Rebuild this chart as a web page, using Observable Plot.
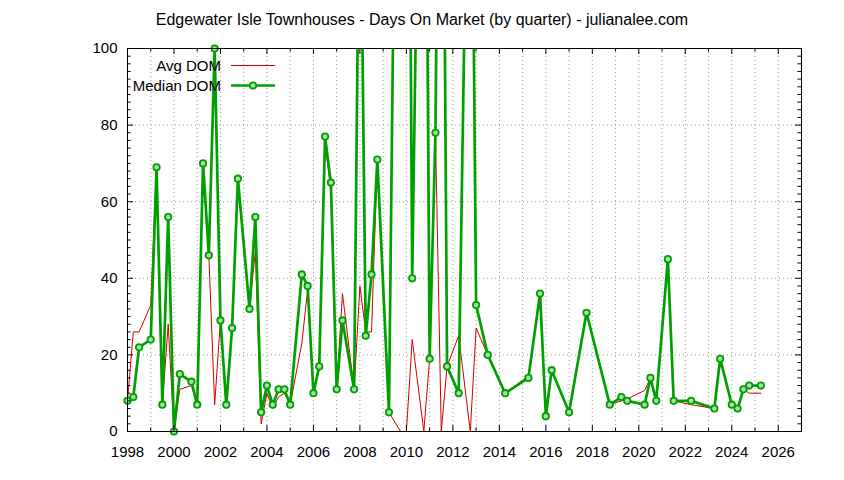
<!DOCTYPE html>
<html><head><meta charset="utf-8">
<script src="https://cdn.jsdelivr.net/npm/d3@7"></script>
<script src="https://cdn.jsdelivr.net/npm/@observablehq/plot@0.6"></script>
<style>body{margin:0;background:#fff;}</style>
</head><body><div id="chart"></div>
<script>
const quarters = [1998.0,1998.25,1998.5,1999.0,1999.25,1999.5,1999.75,2000.0,2000.25,2000.75,
  2001.0,2001.25,2001.5,2001.75,2002.0,2002.25,2002.5,2002.75,2003.25,2003.5,
  2003.75,2004.0,2004.25,2004.5,2004.75,2005.0,2005.5,2005.75,2006.0,2006.25,
  2006.5,2006.75,2007.0,2007.25,2007.75,2008.0,2008.25,2008.5,2008.75,2009.25,
  2009.75,2010.0,2010.25,2010.75,2011.0,2011.25,2011.5,2011.75,2012.25,2012.75,
  2013.0,2013.5,2014.25,2015.25,2015.75,2016.0,2016.25,2017.0,2017.75,2018.75,
  2019.25,2019.5,2020.25,2020.5,2020.75,2021.25,2021.5,2022.25,2023.25,2023.5,
  2024.0,2024.25,2024.5,2024.75,2025.25];
const avgDom = [8,26,26,33,69,7,28,0,11,12,
  7,70,46,7,29,6,27,66,32,47,
  2,10,6,9,10,7,23,37,10,17,
  75,63,11,36,11,38,26,26,71,5,
  0,0,24,0,19,78,0,17,25,0,
  27,20,10,14.5,36,4,16,5,31,7,
  8,8.5,10.7,14,7,45,8,7,6,19,
  7,5,11,10,10];
const medianDom = [8,9,22,24,69,7,56,0,15,13,
  7,70,46,100,29,7,27,66,32,56,
  5,12,7,11,11,7,41,38,10,17,
  77,65,11,29,11,160,25,41,71,5,
  285,280,40,250,19,78,240,17,10,205,
  33,20,10,14,36,4,16,5,31,7,
  9,8,7,14,8,45,8,8,6,19,
  7,6,11,12,12];
const xTickLabels = [1998,2000,2002,2004,2006,2008,2010,2012,2014,2016,2018,2020,2022,2024,2026];
const yTickLabels = [0,20,40,60,80,100];
const titleText = "Edgewater Isle Townhouses - Days On Market (by quarter) - julianalee.com";
const seriesNames = ["Avg DOM", "Median DOM"];

const data = quarters.map((q, i) => ({q, avg: avgDom[i], med: medianDom[i]}));
const W = 844, H = 480, mL = 127, mR = 43, mT = 48, mB = 49;
const plotW = W - mL - mR, plotH = H - mT - mB;
const years = d3.range(1998, 2028);
const majorYears = years.filter(y => y % 2 === 0);
const minorYears = years.filter(y => y % 2 === 1);
const yMajor = [20, 40, 60, 80];
const yMinor = d3.range(2, 100, 2).filter(v => v % 20 !== 0);
const RED = "#d40000", GREEN = "#00a000";
const gridStyle = {stroke: "#999", strokeOpacity: 1, strokeDasharray: "1,3"};

const chart = Plot.plot({
  width: W, height: H,
  marginLeft: mL, marginRight: mR, marginTop: mT, marginBottom: mB,
  style: {fontFamily: "'Liberation Sans', Arial, sans-serif", fontSize: "15px", background: "white", color: "black"},
  x: {domain: [1998, 2027]},
  y: {domain: [0, 100]},
  marks: [
    Plot.gridX(years.filter(y => y > 1998 && y < 2027), gridStyle),
    Plot.gridY(yMajor, gridStyle),
    Plot.line(data, {x: "q", y: "avg", stroke: RED, strokeWidth: 1, clip: true}),
    Plot.line(data, {x: "q", y: "med", stroke: GREEN, strokeWidth: 2.7, clip: true}),
    Plot.dot(data, {filter: d => d.med <= 100, x: "q", y: "med", r: 3.2, stroke: GREEN, strokeWidth: 1.8, fill: "#a8dca8"}),
    Plot.ruleX(majorYears, {insetTop: plotH - 6, stroke: "black"}),
    Plot.ruleX(majorYears, {insetBottom: plotH - 6, stroke: "black"}),
    Plot.ruleX(minorYears, {insetTop: plotH - 3.5, stroke: "black"}),
    Plot.ruleX(minorYears, {insetBottom: plotH - 3.5, stroke: "black"}),
    Plot.ruleY(yMajor, {insetRight: plotW - 6, stroke: "black"}),
    Plot.ruleY(yMajor, {insetLeft: plotW - 6, stroke: "black"}),
    Plot.ruleY(yMinor, {insetRight: plotW - 3.5, stroke: "black"}),
    Plot.ruleY(yMinor, {insetLeft: plotW - 3.5, stroke: "black"}),
    Plot.frame({stroke: "black"}),
    Plot.axisX({ticks: xTickLabels, tickSize: 0, tickPadding: 15, tickFormat: d => String(d), label: null}),
    Plot.axisY({ticks: yTickLabels, tickSize: 0, tickPadding: 10, label: null})
  ]
});
document.getElementById("chart").appendChild(chart);

const svg = d3.select(chart);
svg.append("text").attr("x", 422).attr("y", 25).attr("text-anchor", "middle")
  .attr("font-size", 16).attr("fill", "black").text(titleText);
const leg = svg.append("g").attr("font-size", 15).attr("fill", "black");
leg.append("text").attr("x", 221).attr("y", 65.5).attr("dy", "0.35em").attr("text-anchor", "end").text(seriesNames[0]);
leg.append("line").attr("x1", 231).attr("x2", 275).attr("y1", 65.5).attr("y2", 65.5).attr("stroke", RED).attr("stroke-width", 1);
leg.append("text").attr("x", 221).attr("y", 85.5).attr("dy", "0.35em").attr("text-anchor", "end").text(seriesNames[1]);
leg.append("line").attr("x1", 231).attr("x2", 275).attr("y1", 85.5).attr("y2", 85.5).attr("stroke", GREEN).attr("stroke-width", 2.7);
leg.append("circle").attr("cx", 253).attr("cy", 85.5).attr("r", 3.2).attr("stroke", GREEN).attr("stroke-width", 1.8).attr("fill", "#a8dca8");
</script></body></html>
